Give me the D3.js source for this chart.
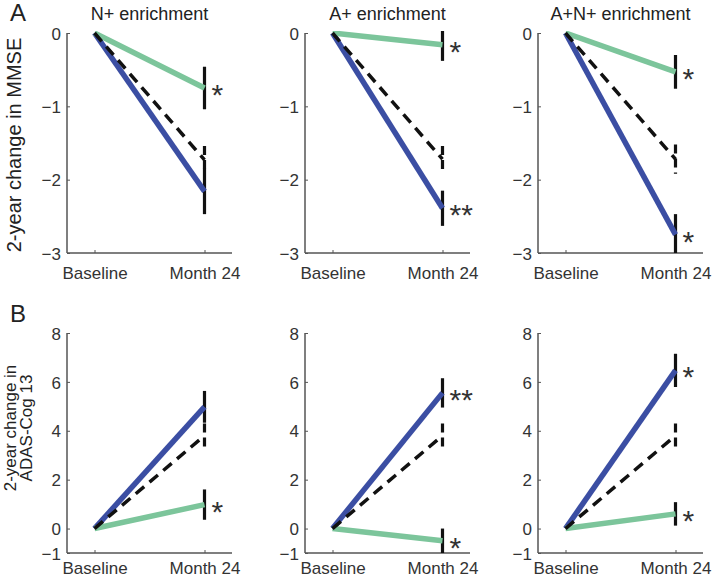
<!DOCTYPE html>
<html>
<head>
<meta charset="utf-8">
<script src="https://cdn.jsdelivr.net/npm/d3@7"></script>
<style>
  body { margin: 0; background: #fff; }
  text { font-family: "Liberation Sans", Arial, sans-serif; fill: #333; }
</style>
</head>
<body>
<svg id="chart" width="712" height="578"></svg>
<script>
var groups = ["N+ enrichment", "A+ enrichment", "A+N+ enrichment"];
var timepoints = ["Baseline", "Month 24"];

// change at month 24 (baseline is always 0)
var mmseBiomarker = [-2.16, -2.39, -2.75];
var mmseBiomarkerErr = [0.31, 0.24, 0.28];
var mmseComplement = [-0.75, -0.16, -0.53];
var mmseComplementErr = [0.29, 0.22, 0.23];
var mmseAll = [-1.73, -1.72, -1.72];
var mmseAllErr = [0.19, 0.18, 0.2];

var adasBiomarker = [4.98, 5.55, 6.47];
var adasBiomarkerErr = [0.65, 0.6, 0.68];
var adasComplement = [0.98, -0.5, 0.6];
var adasComplementErr = [0.62, 0.5, 0.48];
var adasAll = [3.8, 3.8, 3.8];
var adasAllErr = [0.5, 0.5, 0.5];

var biomarkerSig = ["", "**", "*"];
var complementSig = ["*", "*", "*"];

var mmseTicks = [0, -1, -2, -3];
var adasTicks = [-1, 0, 2, 4, 6, 8];

var blue = "#3b4ea3", green = "#7cc59b";

var svg = d3.select("#chart");

var rows = [
  { letter: "A", label: ["2-year change in MMSE"], labelSize: 20, labelX: [21], labelY: 145,
    top: 33, bottom: 253, domain: [-3, 0], ticks: mmseTicks, tickY: 279,
    bio: mmseBiomarker, bioErr: mmseBiomarkerErr, comp: mmseComplement, compErr: mmseComplementErr,
    all: mmseAll, allErr: mmseAllErr, titles: true, letterY: 21 },
  { letter: "B", label: ["2-year change in", "ADAS-Cog 13"], labelSize: 17, labelX: [16, 32], labelY: 428,
    top: 333, bottom: 553, domain: [-1, 8], ticks: adasTicks, tickY: 574,
    bio: adasBiomarker, bioErr: adasBiomarkerErr, comp: adasComplement, compErr: adasComplementErr,
    all: adasAll, allErr: adasAllErr, titles: false, letterY: 322 }
];

var panelLeft = [67, 305, 538], panelW = 165;

rows.forEach(function(row, ri) {
  svg.append("text")
    .attr("x", 10).attr("y", row.letterY)
    .style("font-size", "24px").style("fill", "#222")
    .text(row.letter);

  row.label.forEach(function(line, li) {
    svg.append("text")
      .attr("transform", "translate(" + row.labelX[li] + "," + row.labelY + ") rotate(-90)")
      .attr("text-anchor", "middle")
      .style("font-size", row.labelSize + "px").style("fill", "#222")
      .text(line);
  });

  groups.forEach(function(g, gi) {
    var x0 = panelLeft[gi];
    var x = d3.scalePoint().domain(timepoints).range([x0, x0 + panelW]).padding(0.25);
    var y = d3.scaleLinear().domain(row.domain).range([row.bottom, row.top]);

    var panel = svg.append("g");
    var clipId = "clip" + ri + gi;
    panel.append("clipPath").attr("id", clipId)
      .append("rect").attr("x", x0).attr("y", row.top - 2)
      .attr("width", panelW).attr("height", row.bottom - row.top + 2);

    if (row.titles) {
      panel.append("text")
        .attr("x", x0 + panelW / 2).attr("y", 20)
        .attr("text-anchor", "middle")
        .style("font-size", "18px").style("fill", "#222")
        .text(g);
    }

    // axes
    var yAxis = panel.append("g")
      .attr("transform", "translate(" + x0 + ",0)")
      .call(d3.axisLeft(y).tickValues(row.ticks).tickSize(-3).tickPadding(6).tickFormat(d3.format("d")));
    var xAxis = panel.append("g")
      .attr("transform", "translate(0," + row.bottom + ")")
      .call(d3.axisBottom(x).tickSize(-3).tickPadding(10));
    [yAxis, xAxis].forEach(function(a) {
      a.select(".domain").attr("stroke", "#555").attr("stroke-width", 1.5);
      a.selectAll(".tick line").attr("stroke", "#555");
      a.selectAll(".tick text").style("font-size", "17px").attr("fill", "#333")
        .style("font-family", "Liberation Sans, Arial, sans-serif");
    });
    xAxis.selectAll(".tick text").attr("dy", null).attr("y", row.tickY - row.bottom);
    yAxis.selectAll(".tick text").attr("dy", "0.36em");
    xAxis.select(".domain").attr("d", "M" + x0 + ",0H" + (x0 + panelW));
    yAxis.select(".domain").attr("d", "M0," + row.bottom + "V" + row.top);

    var series = [
      { v: row.bio[gi], e: row.bioErr[gi], color: blue, width: 5.5, dash: null, sig: biomarkerSig[gi] },
      { v: row.comp[gi], e: row.compErr[gi], color: green, width: 5.5, dash: null, sig: complementSig[gi] },
      { v: row.all[gi], e: row.allErr[gi], color: "#111", width: 3.5, dash: "11,7", sig: "" }
    ];

    var plot = panel.append("g").attr("clip-path", "url(#" + clipId + ")");

    // error bars at month 24
    series.forEach(function(s) {
      plot.append("line")
        .attr("x1", x("Month 24")).attr("x2", x("Month 24"))
        .attr("y1", y(s.v + s.e)).attr("y2", y(s.v - s.e))
        .attr("stroke", "#111").attr("stroke-width", 3.2)
        .attr("stroke-dasharray", s.dash ? "9,5" : null);
    });

    var line = d3.line()
      .x(function(d) { return x(d.t); })
      .y(function(d) { return y(d.v); });

    series.forEach(function(s) {
      plot.append("path")
        .datum([{ t: "Baseline", v: 0 }, { t: "Month 24", v: s.v }])
        .attr("d", line)
        .attr("fill", "none")
        .attr("stroke", s.color).attr("stroke-width", s.width)
        .attr("stroke-dasharray", s.dash);
    });

    series.forEach(function(s) {
      if (!s.sig) return;
      panel.append("text")
        .attr("x", x("Month 24") + 7).attr("y", y(s.v) + 17)
        .style("font-size", "30px").style("fill", "#333")
        .text(s.sig);
    });
  });
});
</script>
</body>
</html>
